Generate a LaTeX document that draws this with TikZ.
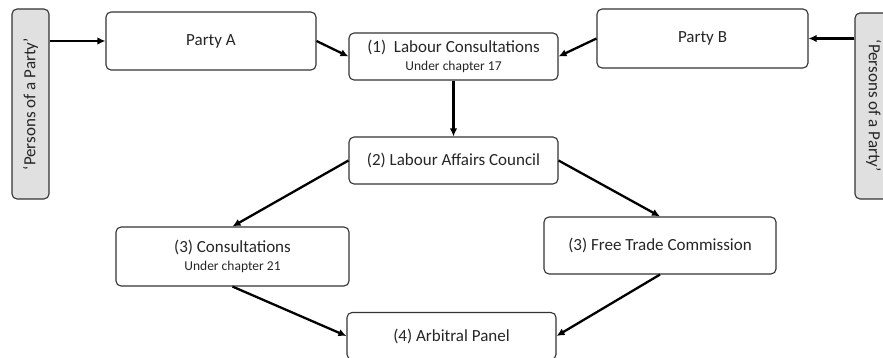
\documentclass[tikz,border=0pt]{standalone}
\usepackage{fontspec}
\setmainfont{Carlito}
\usetikzlibrary{arrows.meta}
\newcommand{\sublabel}[1]{{\fontsize{13.5}{15}\selectfont #1}}

\begin{document}
\begin{tikzpicture}[
			x=1pt, y=-1pt,
			every node/.style={draw=black!80, line width=1.1pt, rounded corners=5pt, inner sep=2pt, align=center, text=black!85, font=\fontsize{17}{19}\selectfont},
			box/.style={fill=white},
			sidebox/.style={fill=black!12, minimum height=37pt},
			arr/.style={draw, line width=2.3pt, -{Latex[length=8pt, width=7.5pt]}}
			]
			\useasboundingbox (0,0) rectangle (883,358);
			% side boxes
			\node[sidebox, rotate=90, minimum width=190pt] (pl) at (30.5,104) {‘Persons of a Party’};
			\node[sidebox, rotate=-90, minimum width=186pt] (pr) at (873.5,106) {‘Persons of a Party’};
			% parties
			\node[box, minimum width=210pt, minimum height=58pt] (pa) at (211,41) {Party A};
			\node[box, minimum width=211pt, minimum height=59pt] (pb) at (702.5,38.5) {Party B};
			% steps
			\node[box, minimum width=209pt, minimum height=47pt] (lc) at (453.5,56.5) {(1)\ \ Labour Consultations\\[-1pt] \sublabel{Under chapter 17}};
			\node[box, minimum width=209pt, minimum height=47pt] (lac) at (453.5,160.5) {(2) Labour Affairs Council};
			\node[box, minimum width=233pt, minimum height=59pt] (cons) at (232.5,256.5) {(3) Consultations\\[-1pt] \sublabel{Under chapter 21}};
			\node[box, minimum width=232pt, minimum height=57pt] (ftc) at (660,245.5) {(3) Free Trade Commission};
			\node[box, minimum width=209pt, minimum height=47pt] (ap) at (451.5,336) {(4) Arbitral Panel};
			% arrows
			\draw[arr] (pl.south |- pa.west) -- (pa.west);
			\draw[arr] (pr.south |- pb.east) -- (pb.east);
			\draw[arr] (pa.east) -- (lc.west);
			\draw[arr] (pb.west) -- (lc.east);
			\draw[arr] (lc.south) -- (lac.north);
			\draw[arr] (lac.west) -- (cons.north);
			\draw[arr] (lac.east) -- (ftc.north);
			\draw[arr] (cons.south) -- (ap.west);
			\draw[arr] (ftc.south) -- (ap.east);
\end{tikzpicture}
\end{document}
